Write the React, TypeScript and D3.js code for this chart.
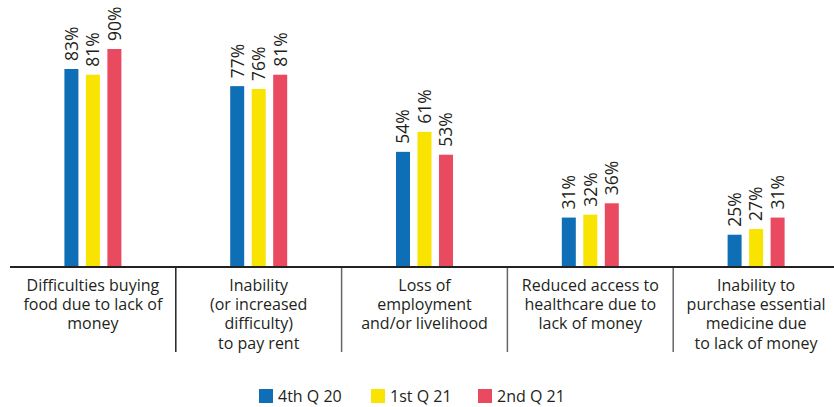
import React from 'react';
import * as d3 from 'd3';

const categories = ['food', 'rent', 'employment', 'healthcare', 'medicine'];
const categoryLines = [
  ['Difficulties buying', 'food due to lack of', 'money'],
  ['Inability', '(or increased', 'difficulty)', 'to pay rent'],
  ['Loss of', 'employment', 'and/or livelihood'],
  ['Reduced access to', 'healthcare due to', 'lack of money'],
  ['Inability to', 'purchase essential', 'medicine due', 'to lack of money'],
];
const seriesNames = ['4th Q 20', '1st Q 21', '2nd Q 21'];
const q4_20 = [83, 77, 54, 31, 25];
const q1_21 = [81, 76, 61, 32, 27];
const q2_21 = [90, 81, 53, 36, 31];
const seriesValues = [q4_20, q1_21, q2_21];
const colors = ['#0f6fb6', '#f8e400', '#ea4a60'];

const W = 834;
const H = 407;
const baseY = 267;
const font = '"Open Sans", "Noto Sans", sans-serif';
const textColor = '#231f20';

const App: React.FC = () => {
  const x = d3.scaleBand<string>().domain(categories).range([10, 839]);
  // axis does not start at zero in the original
  const y = d3.scaleLinear().domain([13.7, 90]).range([baseY, 49]);
  const barW = 14;
  const step = 21.5;

  const legendX = [259, 371, 478];

  return (
    <svg width={W} height={H} style={{ position: 'absolute', left: 0, top: 0, background: '#fff' }}>
      {categories.map((c, i) => {
        const cx = x(c)! + x.bandwidth() / 2;
        return (
          <g key={c}>
            {seriesValues.map((vals, s) => {
              const bx = cx + (s - 1) * step - barW / 2;
              const top = y(vals[i]);
              return (
                <g key={s}>
                  <rect x={bx} y={top} width={barW} height={baseY - top} fill={colors[s]} />
                  <text
                    transform={`translate(${bx + barW / 2},${top - 8}) rotate(-90)`}
                    dy="0.36em"
                    fontSize={17.5}
                    fontFamily={font}
                    fill={textColor}
                  >
                    {vals[i]}%
                  </text>
                </g>
              );
            })}
            {categoryLines[i].map((line, j) => (
              <text
                key={j}
                x={cx}
                y={291 + j * 19.2}
                textAnchor="middle"
                fontSize={16}
                fontFamily={font}
                fill={textColor}
              >
                {line}
              </text>
            ))}
            {i > 0 && (
              <line x1={x(c)} x2={x(c)} y1={baseY} y2={352} stroke={i === 1 ? '#222' : '#666'} strokeWidth={1.5} />
            )}
          </g>
        );
      })}
      <line x1={10} x2={W} y1={baseY} y2={baseY} stroke="#222" strokeWidth={2} />
      {seriesNames.map((name, s) => (
        <g key={name} transform={`translate(${legendX[s]},389)`}>
          <rect width={14} height={14} fill={colors[s]} />
          <text x={19} y={13} fontSize={16} fontFamily={font} fill={textColor}>
            {name}
          </text>
        </g>
      ))}
    </svg>
  );
};

export default App;
